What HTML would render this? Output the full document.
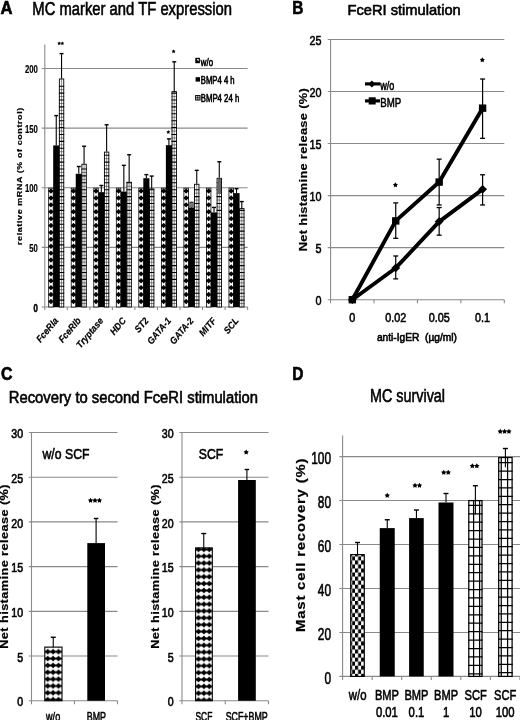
<!DOCTYPE html>
<html><head><meta charset="utf-8"><title>Figure</title>
<style>html,body{margin:0;padding:0;background:#fff;width:520px;height:720px;overflow:hidden}
svg{display:block;font-family:"Liberation Sans",sans-serif;will-change:transform}
text{stroke:#000;stroke-width:0.6px}
text[font-weight=bold]{stroke-width:0.2px}
text.xl{stroke-width:0.2px}
text.pl{stroke-width:0.6px}</style></head>
<body><svg width="520" height="720" viewBox="0 0 520 720" font-family="Liberation Sans, sans-serif"><defs><pattern id="zz1" patternUnits="userSpaceOnUse" width="5.4" height="6.85" x="45.0" y="648.3">
<rect width="5.4" height="6.85" fill="#fff"/>
<path d="M0,3.42 L2.7,0.6 L5.4,3.42 L2.7,6.25Z" fill="#000"/>
<rect x="0" y="2.5" width="5.4" height="1.9" fill="#000"/>
</pattern><pattern id="zz2" patternUnits="userSpaceOnUse" width="5.4" height="6.85" x="195.8" y="648.7">
<rect width="5.4" height="6.85" fill="#fff"/>
<path d="M0,3.42 L2.7,0.6 L5.4,3.42 L2.7,6.25Z" fill="#000"/>
<rect x="0" y="2.5" width="5.4" height="1.9" fill="#000"/>
</pattern><pattern id="gd1" patternUnits="userSpaceOnUse" width="6.0" height="8.45" x="473.0" y="563.8">
<rect width="6.0" height="8.45" fill="#fff"/>
<rect x="0" y="0" width="6.0" height="1.15" fill="#000"/>
<rect x="0" y="0" width="1.15" height="8.45" fill="#000"/>
</pattern><pattern id="gd2" patternUnits="userSpaceOnUse" width="6.35" height="8.4" x="501.0" y="563.0">
<rect width="6.35" height="8.4" fill="#fff"/>
<rect x="0" y="0" width="6.35" height="1.15" fill="#000"/>
<rect x="0" y="0" width="1.15" height="8.4" fill="#000"/>
</pattern><pattern id="chk" patternUnits="userSpaceOnUse" width="6.1" height="8.1" x="348.95" y="600.9">
<rect width="6.1" height="8.1" fill="#fff"/>
<rect x="0" y="0" width="3.05" height="4.05" fill="#000"/>
<rect x="3.05" y="4.05" width="3.05" height="4.05" fill="#000"/>
</pattern></defs>
<text class="pl" x="0.40" y="13.85" font-size="17.5" font-weight="bold" font-style="normal" textLength="12.00" lengthAdjust="spacingAndGlyphs">A</text>
<text x="32.30" y="15.00" font-size="17.5" font-weight="normal" font-style="normal" textLength="199.70" lengthAdjust="spacingAndGlyphs">MC marker and TF expression</text>
<line x1="41.80" y1="247.38" x2="247.60" y2="247.38" stroke="#8a8a8a" stroke-width="1.1"/>
<line x1="41.80" y1="187.75" x2="247.60" y2="187.75" stroke="#8a8a8a" stroke-width="1.1"/>
<line x1="41.80" y1="128.13" x2="247.60" y2="128.13" stroke="#8a8a8a" stroke-width="1.1"/>
<line x1="41.80" y1="68.50" x2="247.60" y2="68.50" stroke="#8a8a8a" stroke-width="1.1"/>
<line x1="44.80" y1="44.50" x2="44.80" y2="307.00" stroke="#8a8a8a" stroke-width="1.1"/>
<line x1="41.80" y1="307.00" x2="247.60" y2="307.00" stroke="#8a8a8a" stroke-width="1.1"/>
<line x1="44.80" y1="307.00" x2="44.80" y2="310.00" stroke="#8a8a8a" stroke-width="1.1"/>
<line x1="67.33" y1="307.00" x2="67.33" y2="310.00" stroke="#8a8a8a" stroke-width="1.1"/>
<line x1="89.87" y1="307.00" x2="89.87" y2="310.00" stroke="#8a8a8a" stroke-width="1.1"/>
<line x1="112.40" y1="307.00" x2="112.40" y2="310.00" stroke="#8a8a8a" stroke-width="1.1"/>
<line x1="134.93" y1="307.00" x2="134.93" y2="310.00" stroke="#8a8a8a" stroke-width="1.1"/>
<line x1="157.47" y1="307.00" x2="157.47" y2="310.00" stroke="#8a8a8a" stroke-width="1.1"/>
<line x1="180.00" y1="307.00" x2="180.00" y2="310.00" stroke="#8a8a8a" stroke-width="1.1"/>
<line x1="202.53" y1="307.00" x2="202.53" y2="310.00" stroke="#8a8a8a" stroke-width="1.1"/>
<line x1="225.07" y1="307.00" x2="225.07" y2="310.00" stroke="#8a8a8a" stroke-width="1.1"/>
<line x1="247.60" y1="307.00" x2="247.60" y2="310.00" stroke="#8a8a8a" stroke-width="1.1"/>
<text class="pl" x="33.52" y="311.50" font-size="11" font-weight="bold" font-style="normal" textLength="4.28" lengthAdjust="spacingAndGlyphs">0</text>
<text x="29.24" y="251.88" font-size="11" font-weight="bold" font-style="normal" textLength="8.56" lengthAdjust="spacingAndGlyphs">50</text>
<text x="24.96" y="192.25" font-size="11" font-weight="bold" font-style="normal" textLength="12.85" lengthAdjust="spacingAndGlyphs">100</text>
<text x="24.96" y="132.63" font-size="11" font-weight="bold" font-style="normal" textLength="12.85" lengthAdjust="spacingAndGlyphs">150</text>
<text x="24.96" y="73.00" font-size="11" font-weight="bold" font-style="normal" textLength="12.85" lengthAdjust="spacingAndGlyphs">200</text>
<text transform="translate(22.40,245.00) rotate(-90) scale(1.2,1)" x="0" y="0" font-size="7.4" font-weight="bold" letter-spacing="0.538">relative mRNA (% of control)</text>
<rect x="48.70" y="188.15" width="4.50" height="118.85" fill="#fff" stroke="#000" stroke-width="0.8"/>
<clipPath id="cA0"><rect x="48.30" y="187.75" width="5.30" height="119.25"/></clipPath>
<path clip-path="url(#cA0)" d="M48.30,191.05 L50.95,188.35 L53.60,191.05 L50.95,193.75Z M48.30,190.15 H53.60 V191.95 H48.30Z M48.30,197.95 L50.95,195.25 L53.60,197.95 L50.95,200.65Z M48.30,197.05 H53.60 V198.85 H48.30Z M48.30,204.85 L50.95,202.15 L53.60,204.85 L50.95,207.55Z M48.30,203.95 H53.60 V205.75 H48.30Z M48.30,211.75 L50.95,209.05 L53.60,211.75 L50.95,214.45Z M48.30,210.85 H53.60 V212.65 H48.30Z M48.30,218.65 L50.95,215.95 L53.60,218.65 L50.95,221.35Z M48.30,217.75 H53.60 V219.55 H48.30Z M48.30,225.55 L50.95,222.85 L53.60,225.55 L50.95,228.25Z M48.30,224.65 H53.60 V226.45 H48.30Z M48.30,232.45 L50.95,229.75 L53.60,232.45 L50.95,235.15Z M48.30,231.55 H53.60 V233.35 H48.30Z M48.30,239.35 L50.95,236.65 L53.60,239.35 L50.95,242.05Z M48.30,238.45 H53.60 V240.25 H48.30Z M48.30,246.25 L50.95,243.55 L53.60,246.25 L50.95,248.95Z M48.30,245.35 H53.60 V247.15 H48.30Z M48.30,253.15 L50.95,250.45 L53.60,253.15 L50.95,255.85Z M48.30,252.25 H53.60 V254.05 H48.30Z M48.30,260.05 L50.95,257.35 L53.60,260.05 L50.95,262.75Z M48.30,259.15 H53.60 V260.95 H48.30Z M48.30,266.95 L50.95,264.25 L53.60,266.95 L50.95,269.65Z M48.30,266.05 H53.60 V267.85 H48.30Z M48.30,273.85 L50.95,271.15 L53.60,273.85 L50.95,276.55Z M48.30,272.95 H53.60 V274.75 H48.30Z M48.30,280.75 L50.95,278.05 L53.60,280.75 L50.95,283.45Z M48.30,279.85 H53.60 V281.65 H48.30Z M48.30,287.65 L50.95,284.95 L53.60,287.65 L50.95,290.35Z M48.30,286.75 H53.60 V288.55 H48.30Z M48.30,294.55 L50.95,291.85 L53.60,294.55 L50.95,297.25Z M48.30,293.65 H53.60 V295.45 H48.30Z M48.30,301.45 L50.95,298.75 L53.60,301.45 L50.95,304.15Z M48.30,300.55 H53.60 V302.35 H48.30Z" fill="#000"/>
<rect x="53.20" y="145.42" width="6.10" height="161.58" fill="#000"/>
<line x1="56.25" y1="115.60" x2="56.25" y2="145.42" stroke="#000" stroke-width="1.1"/>
<line x1="54.25" y1="115.60" x2="58.25" y2="115.60" stroke="#000" stroke-width="1.4"/>
<rect x="59.35" y="78.97" width="4.40" height="228.03" fill="#fff" stroke="#000" stroke-width="0.9"/>
<path d="M58.90,300.10 H64.20 M58.90,293.20 H64.20 M58.90,286.30 H64.20 M58.90,279.40 H64.20 M58.90,272.50 H64.20 M58.90,265.60 H64.20 M58.90,258.70 H64.20 M58.90,251.80 H64.20 M58.90,244.90 H64.20 M58.90,238.00 H64.20 M58.90,231.10 H64.20 M58.90,224.20 H64.20 M58.90,217.30 H64.20 M58.90,210.40 H64.20 M58.90,203.50 H64.20 M58.90,196.60 H64.20 M58.90,189.70 H64.20 M58.90,182.80 H64.20 M58.90,175.90 H64.20 M58.90,169.00 H64.20 M58.90,162.10 H64.20 M58.90,155.20 H64.20 M58.90,148.30 H64.20 M58.90,141.40 H64.20 M58.90,134.50 H64.20 M58.90,127.60 H64.20 M58.90,120.70 H64.20 M58.90,113.80 H64.20 M58.90,106.90 H64.20 M58.90,100.00 H64.20 M58.90,93.10 H64.20 M58.90,86.20 H64.20" stroke="#000" stroke-width="1.1" fill="none"/>
<path d="M58.90,303.55 H64.20 M58.90,296.65 H64.20 M58.90,289.75 H64.20 M58.90,282.85 H64.20 M58.90,275.95 H64.20 M58.90,269.05 H64.20 M58.90,262.15 H64.20 M58.90,255.25 H64.20 M58.90,248.35 H64.20 M58.90,241.45 H64.20 M58.90,234.55 H64.20 M58.90,227.65 H64.20 M58.90,220.75 H64.20 M58.90,213.85 H64.20 M58.90,206.95 H64.20 M58.90,200.05 H64.20 M58.90,193.15 H64.20 M58.90,186.25 H64.20 M58.90,179.35 H64.20 M58.90,172.45 H64.20 M58.90,165.55 H64.20 M58.90,158.65 H64.20 M58.90,151.75 H64.20 M58.90,144.85 H64.20 M58.90,137.95 H64.20 M58.90,131.05 H64.20 M58.90,124.15 H64.20 M58.90,117.25 H64.20 M58.90,110.35 H64.20 M58.90,103.45 H64.20 M58.90,96.55 H64.20 M58.90,89.65 H64.20" stroke="#000" stroke-width="0.45" fill="none"/>
<line x1="61.55" y1="78.52" x2="61.55" y2="307.00" stroke="#000" stroke-width="0.45"/>
<line x1="61.55" y1="53.59" x2="61.55" y2="78.52" stroke="#000" stroke-width="1.1"/>
<line x1="59.55" y1="53.59" x2="63.55" y2="53.59" stroke="#000" stroke-width="1.4"/>
<rect x="71.23" y="188.15" width="4.50" height="118.85" fill="#fff" stroke="#000" stroke-width="0.8"/>
<clipPath id="cA1"><rect x="70.83" y="187.75" width="5.30" height="119.25"/></clipPath>
<path clip-path="url(#cA1)" d="M70.83,191.05 L73.48,188.35 L76.13,191.05 L73.48,193.75Z M70.83,190.15 H76.13 V191.95 H70.83Z M70.83,197.95 L73.48,195.25 L76.13,197.95 L73.48,200.65Z M70.83,197.05 H76.13 V198.85 H70.83Z M70.83,204.85 L73.48,202.15 L76.13,204.85 L73.48,207.55Z M70.83,203.95 H76.13 V205.75 H70.83Z M70.83,211.75 L73.48,209.05 L76.13,211.75 L73.48,214.45Z M70.83,210.85 H76.13 V212.65 H70.83Z M70.83,218.65 L73.48,215.95 L76.13,218.65 L73.48,221.35Z M70.83,217.75 H76.13 V219.55 H70.83Z M70.83,225.55 L73.48,222.85 L76.13,225.55 L73.48,228.25Z M70.83,224.65 H76.13 V226.45 H70.83Z M70.83,232.45 L73.48,229.75 L76.13,232.45 L73.48,235.15Z M70.83,231.55 H76.13 V233.35 H70.83Z M70.83,239.35 L73.48,236.65 L76.13,239.35 L73.48,242.05Z M70.83,238.45 H76.13 V240.25 H70.83Z M70.83,246.25 L73.48,243.55 L76.13,246.25 L73.48,248.95Z M70.83,245.35 H76.13 V247.15 H70.83Z M70.83,253.15 L73.48,250.45 L76.13,253.15 L73.48,255.85Z M70.83,252.25 H76.13 V254.05 H70.83Z M70.83,260.05 L73.48,257.35 L76.13,260.05 L73.48,262.75Z M70.83,259.15 H76.13 V260.95 H70.83Z M70.83,266.95 L73.48,264.25 L76.13,266.95 L73.48,269.65Z M70.83,266.05 H76.13 V267.85 H70.83Z M70.83,273.85 L73.48,271.15 L76.13,273.85 L73.48,276.55Z M70.83,272.95 H76.13 V274.75 H70.83Z M70.83,280.75 L73.48,278.05 L76.13,280.75 L73.48,283.45Z M70.83,279.85 H76.13 V281.65 H70.83Z M70.83,287.65 L73.48,284.95 L76.13,287.65 L73.48,290.35Z M70.83,286.75 H76.13 V288.55 H70.83Z M70.83,294.55 L73.48,291.85 L76.13,294.55 L73.48,297.25Z M70.83,293.65 H76.13 V295.45 H70.83Z M70.83,301.45 L73.48,298.75 L76.13,301.45 L73.48,304.15Z M70.83,300.55 H76.13 V302.35 H70.83Z" fill="#000"/>
<rect x="75.73" y="173.80" width="6.10" height="133.20" fill="#000"/>
<line x1="78.78" y1="166.52" x2="78.78" y2="173.80" stroke="#000" stroke-width="1.1"/>
<line x1="76.78" y1="166.52" x2="80.78" y2="166.52" stroke="#000" stroke-width="1.4"/>
<rect x="81.88" y="164.23" width="4.40" height="142.77" fill="#fff" stroke="#000" stroke-width="0.9"/>
<path d="M81.43,300.10 H86.73 M81.43,293.20 H86.73 M81.43,286.30 H86.73 M81.43,279.40 H86.73 M81.43,272.50 H86.73 M81.43,265.60 H86.73 M81.43,258.70 H86.73 M81.43,251.80 H86.73 M81.43,244.90 H86.73 M81.43,238.00 H86.73 M81.43,231.10 H86.73 M81.43,224.20 H86.73 M81.43,217.30 H86.73 M81.43,210.40 H86.73 M81.43,203.50 H86.73 M81.43,196.60 H86.73 M81.43,189.70 H86.73 M81.43,182.80 H86.73 M81.43,175.90 H86.73 M81.43,169.00 H86.73" stroke="#000" stroke-width="1.1" fill="none"/>
<path d="M81.43,303.55 H86.73 M81.43,296.65 H86.73 M81.43,289.75 H86.73 M81.43,282.85 H86.73 M81.43,275.95 H86.73 M81.43,269.05 H86.73 M81.43,262.15 H86.73 M81.43,255.25 H86.73 M81.43,248.35 H86.73 M81.43,241.45 H86.73 M81.43,234.55 H86.73 M81.43,227.65 H86.73 M81.43,220.75 H86.73 M81.43,213.85 H86.73 M81.43,206.95 H86.73 M81.43,200.05 H86.73 M81.43,193.15 H86.73 M81.43,186.25 H86.73 M81.43,179.35 H86.73 M81.43,172.45 H86.73" stroke="#000" stroke-width="0.45" fill="none"/>
<line x1="84.08" y1="163.78" x2="84.08" y2="307.00" stroke="#000" stroke-width="0.45"/>
<line x1="84.08" y1="146.25" x2="84.08" y2="163.78" stroke="#000" stroke-width="1.1"/>
<line x1="82.08" y1="146.25" x2="86.08" y2="146.25" stroke="#000" stroke-width="1.4"/>
<rect x="93.77" y="188.15" width="4.50" height="118.85" fill="#fff" stroke="#000" stroke-width="0.8"/>
<clipPath id="cA2"><rect x="93.37" y="187.75" width="5.30" height="119.25"/></clipPath>
<path clip-path="url(#cA2)" d="M93.37,191.05 L96.02,188.35 L98.67,191.05 L96.02,193.75Z M93.37,190.15 H98.67 V191.95 H93.37Z M93.37,197.95 L96.02,195.25 L98.67,197.95 L96.02,200.65Z M93.37,197.05 H98.67 V198.85 H93.37Z M93.37,204.85 L96.02,202.15 L98.67,204.85 L96.02,207.55Z M93.37,203.95 H98.67 V205.75 H93.37Z M93.37,211.75 L96.02,209.05 L98.67,211.75 L96.02,214.45Z M93.37,210.85 H98.67 V212.65 H93.37Z M93.37,218.65 L96.02,215.95 L98.67,218.65 L96.02,221.35Z M93.37,217.75 H98.67 V219.55 H93.37Z M93.37,225.55 L96.02,222.85 L98.67,225.55 L96.02,228.25Z M93.37,224.65 H98.67 V226.45 H93.37Z M93.37,232.45 L96.02,229.75 L98.67,232.45 L96.02,235.15Z M93.37,231.55 H98.67 V233.35 H93.37Z M93.37,239.35 L96.02,236.65 L98.67,239.35 L96.02,242.05Z M93.37,238.45 H98.67 V240.25 H93.37Z M93.37,246.25 L96.02,243.55 L98.67,246.25 L96.02,248.95Z M93.37,245.35 H98.67 V247.15 H93.37Z M93.37,253.15 L96.02,250.45 L98.67,253.15 L96.02,255.85Z M93.37,252.25 H98.67 V254.05 H93.37Z M93.37,260.05 L96.02,257.35 L98.67,260.05 L96.02,262.75Z M93.37,259.15 H98.67 V260.95 H93.37Z M93.37,266.95 L96.02,264.25 L98.67,266.95 L96.02,269.65Z M93.37,266.05 H98.67 V267.85 H93.37Z M93.37,273.85 L96.02,271.15 L98.67,273.85 L96.02,276.55Z M93.37,272.95 H98.67 V274.75 H93.37Z M93.37,280.75 L96.02,278.05 L98.67,280.75 L96.02,283.45Z M93.37,279.85 H98.67 V281.65 H93.37Z M93.37,287.65 L96.02,284.95 L98.67,287.65 L96.02,290.35Z M93.37,286.75 H98.67 V288.55 H93.37Z M93.37,294.55 L96.02,291.85 L98.67,294.55 L96.02,297.25Z M93.37,293.65 H98.67 V295.45 H93.37Z M93.37,301.45 L96.02,298.75 L98.67,301.45 L96.02,304.15Z M93.37,300.55 H98.67 V302.35 H93.37Z" fill="#000"/>
<rect x="98.27" y="192.16" width="6.10" height="114.84" fill="#000"/>
<line x1="101.32" y1="185.48" x2="101.32" y2="192.16" stroke="#000" stroke-width="1.1"/>
<line x1="99.32" y1="185.48" x2="103.32" y2="185.48" stroke="#000" stroke-width="1.4"/>
<rect x="104.42" y="152.07" width="4.40" height="154.93" fill="#fff" stroke="#000" stroke-width="0.9"/>
<path d="M103.97,300.10 H109.27 M103.97,293.20 H109.27 M103.97,286.30 H109.27 M103.97,279.40 H109.27 M103.97,272.50 H109.27 M103.97,265.60 H109.27 M103.97,258.70 H109.27 M103.97,251.80 H109.27 M103.97,244.90 H109.27 M103.97,238.00 H109.27 M103.97,231.10 H109.27 M103.97,224.20 H109.27 M103.97,217.30 H109.27 M103.97,210.40 H109.27 M103.97,203.50 H109.27 M103.97,196.60 H109.27 M103.97,189.70 H109.27 M103.97,182.80 H109.27 M103.97,175.90 H109.27 M103.97,169.00 H109.27 M103.97,162.10 H109.27 M103.97,155.20 H109.27" stroke="#000" stroke-width="1.1" fill="none"/>
<path d="M103.97,303.55 H109.27 M103.97,296.65 H109.27 M103.97,289.75 H109.27 M103.97,282.85 H109.27 M103.97,275.95 H109.27 M103.97,269.05 H109.27 M103.97,262.15 H109.27 M103.97,255.25 H109.27 M103.97,248.35 H109.27 M103.97,241.45 H109.27 M103.97,234.55 H109.27 M103.97,227.65 H109.27 M103.97,220.75 H109.27 M103.97,213.85 H109.27 M103.97,206.95 H109.27 M103.97,200.05 H109.27 M103.97,193.15 H109.27 M103.97,186.25 H109.27 M103.97,179.35 H109.27 M103.97,172.45 H109.27 M103.97,165.55 H109.27 M103.97,158.65 H109.27" stroke="#000" stroke-width="0.45" fill="none"/>
<line x1="106.62" y1="151.62" x2="106.62" y2="307.00" stroke="#000" stroke-width="0.45"/>
<line x1="106.62" y1="124.79" x2="106.62" y2="151.62" stroke="#000" stroke-width="1.1"/>
<line x1="104.62" y1="124.79" x2="108.62" y2="124.79" stroke="#000" stroke-width="1.4"/>
<rect x="116.30" y="188.15" width="4.50" height="118.85" fill="#fff" stroke="#000" stroke-width="0.8"/>
<clipPath id="cA3"><rect x="115.90" y="187.75" width="5.30" height="119.25"/></clipPath>
<path clip-path="url(#cA3)" d="M115.90,191.05 L118.55,188.35 L121.20,191.05 L118.55,193.75Z M115.90,190.15 H121.20 V191.95 H115.90Z M115.90,197.95 L118.55,195.25 L121.20,197.95 L118.55,200.65Z M115.90,197.05 H121.20 V198.85 H115.90Z M115.90,204.85 L118.55,202.15 L121.20,204.85 L118.55,207.55Z M115.90,203.95 H121.20 V205.75 H115.90Z M115.90,211.75 L118.55,209.05 L121.20,211.75 L118.55,214.45Z M115.90,210.85 H121.20 V212.65 H115.90Z M115.90,218.65 L118.55,215.95 L121.20,218.65 L118.55,221.35Z M115.90,217.75 H121.20 V219.55 H115.90Z M115.90,225.55 L118.55,222.85 L121.20,225.55 L118.55,228.25Z M115.90,224.65 H121.20 V226.45 H115.90Z M115.90,232.45 L118.55,229.75 L121.20,232.45 L118.55,235.15Z M115.90,231.55 H121.20 V233.35 H115.90Z M115.90,239.35 L118.55,236.65 L121.20,239.35 L118.55,242.05Z M115.90,238.45 H121.20 V240.25 H115.90Z M115.90,246.25 L118.55,243.55 L121.20,246.25 L118.55,248.95Z M115.90,245.35 H121.20 V247.15 H115.90Z M115.90,253.15 L118.55,250.45 L121.20,253.15 L118.55,255.85Z M115.90,252.25 H121.20 V254.05 H115.90Z M115.90,260.05 L118.55,257.35 L121.20,260.05 L118.55,262.75Z M115.90,259.15 H121.20 V260.95 H115.90Z M115.90,266.95 L118.55,264.25 L121.20,266.95 L118.55,269.65Z M115.90,266.05 H121.20 V267.85 H115.90Z M115.90,273.85 L118.55,271.15 L121.20,273.85 L118.55,276.55Z M115.90,272.95 H121.20 V274.75 H115.90Z M115.90,280.75 L118.55,278.05 L121.20,280.75 L118.55,283.45Z M115.90,279.85 H121.20 V281.65 H115.90Z M115.90,287.65 L118.55,284.95 L121.20,287.65 L118.55,290.35Z M115.90,286.75 H121.20 V288.55 H115.90Z M115.90,294.55 L118.55,291.85 L121.20,294.55 L118.55,297.25Z M115.90,293.65 H121.20 V295.45 H115.90Z M115.90,301.45 L118.55,298.75 L121.20,301.45 L118.55,304.15Z M115.90,300.55 H121.20 V302.35 H115.90Z" fill="#000"/>
<rect x="120.80" y="191.57" width="6.10" height="115.43" fill="#000"/>
<line x1="123.85" y1="165.33" x2="123.85" y2="191.57" stroke="#000" stroke-width="1.1"/>
<line x1="121.85" y1="165.33" x2="125.85" y2="165.33" stroke="#000" stroke-width="1.4"/>
<rect x="126.95" y="182.24" width="4.40" height="124.76" fill="#fff" stroke="#000" stroke-width="0.9"/>
<path d="M126.50,300.10 H131.80 M126.50,293.20 H131.80 M126.50,286.30 H131.80 M126.50,279.40 H131.80 M126.50,272.50 H131.80 M126.50,265.60 H131.80 M126.50,258.70 H131.80 M126.50,251.80 H131.80 M126.50,244.90 H131.80 M126.50,238.00 H131.80 M126.50,231.10 H131.80 M126.50,224.20 H131.80 M126.50,217.30 H131.80 M126.50,210.40 H131.80 M126.50,203.50 H131.80 M126.50,196.60 H131.80 M126.50,189.70 H131.80 M126.50,182.80 H131.80" stroke="#000" stroke-width="1.1" fill="none"/>
<path d="M126.50,303.55 H131.80 M126.50,296.65 H131.80 M126.50,289.75 H131.80 M126.50,282.85 H131.80 M126.50,275.95 H131.80 M126.50,269.05 H131.80 M126.50,262.15 H131.80 M126.50,255.25 H131.80 M126.50,248.35 H131.80 M126.50,241.45 H131.80 M126.50,234.55 H131.80 M126.50,227.65 H131.80 M126.50,220.75 H131.80 M126.50,213.85 H131.80 M126.50,206.95 H131.80 M126.50,200.05 H131.80 M126.50,193.15 H131.80 M126.50,186.25 H131.80" stroke="#000" stroke-width="0.45" fill="none"/>
<line x1="129.15" y1="181.79" x2="129.15" y2="307.00" stroke="#000" stroke-width="0.45"/>
<line x1="129.15" y1="154.72" x2="129.15" y2="181.79" stroke="#000" stroke-width="1.1"/>
<line x1="127.15" y1="154.72" x2="131.15" y2="154.72" stroke="#000" stroke-width="1.4"/>
<rect x="138.83" y="188.15" width="4.50" height="118.85" fill="#fff" stroke="#000" stroke-width="0.8"/>
<clipPath id="cA4"><rect x="138.43" y="187.75" width="5.30" height="119.25"/></clipPath>
<path clip-path="url(#cA4)" d="M138.43,191.05 L141.08,188.35 L143.73,191.05 L141.08,193.75Z M138.43,190.15 H143.73 V191.95 H138.43Z M138.43,197.95 L141.08,195.25 L143.73,197.95 L141.08,200.65Z M138.43,197.05 H143.73 V198.85 H138.43Z M138.43,204.85 L141.08,202.15 L143.73,204.85 L141.08,207.55Z M138.43,203.95 H143.73 V205.75 H138.43Z M138.43,211.75 L141.08,209.05 L143.73,211.75 L141.08,214.45Z M138.43,210.85 H143.73 V212.65 H138.43Z M138.43,218.65 L141.08,215.95 L143.73,218.65 L141.08,221.35Z M138.43,217.75 H143.73 V219.55 H138.43Z M138.43,225.55 L141.08,222.85 L143.73,225.55 L141.08,228.25Z M138.43,224.65 H143.73 V226.45 H138.43Z M138.43,232.45 L141.08,229.75 L143.73,232.45 L141.08,235.15Z M138.43,231.55 H143.73 V233.35 H138.43Z M138.43,239.35 L141.08,236.65 L143.73,239.35 L141.08,242.05Z M138.43,238.45 H143.73 V240.25 H138.43Z M138.43,246.25 L141.08,243.55 L143.73,246.25 L141.08,248.95Z M138.43,245.35 H143.73 V247.15 H138.43Z M138.43,253.15 L141.08,250.45 L143.73,253.15 L141.08,255.85Z M138.43,252.25 H143.73 V254.05 H138.43Z M138.43,260.05 L141.08,257.35 L143.73,260.05 L141.08,262.75Z M138.43,259.15 H143.73 V260.95 H138.43Z M138.43,266.95 L141.08,264.25 L143.73,266.95 L141.08,269.65Z M138.43,266.05 H143.73 V267.85 H138.43Z M138.43,273.85 L141.08,271.15 L143.73,273.85 L141.08,276.55Z M138.43,272.95 H143.73 V274.75 H138.43Z M138.43,280.75 L141.08,278.05 L143.73,280.75 L141.08,283.45Z M138.43,279.85 H143.73 V281.65 H138.43Z M138.43,287.65 L141.08,284.95 L143.73,287.65 L141.08,290.35Z M138.43,286.75 H143.73 V288.55 H138.43Z M138.43,294.55 L141.08,291.85 L143.73,294.55 L141.08,297.25Z M138.43,293.65 H143.73 V295.45 H138.43Z M138.43,301.45 L141.08,298.75 L143.73,301.45 L141.08,304.15Z M138.43,300.55 H143.73 V302.35 H138.43Z" fill="#000"/>
<rect x="143.33" y="178.21" width="6.10" height="128.79" fill="#000"/>
<line x1="146.38" y1="174.63" x2="146.38" y2="178.21" stroke="#000" stroke-width="1.1"/>
<line x1="144.38" y1="174.63" x2="148.38" y2="174.63" stroke="#000" stroke-width="1.4"/>
<rect x="149.48" y="188.92" width="4.40" height="118.08" fill="#fff" stroke="#000" stroke-width="0.9"/>
<path d="M149.03,300.10 H154.33 M149.03,293.20 H154.33 M149.03,286.30 H154.33 M149.03,279.40 H154.33 M149.03,272.50 H154.33 M149.03,265.60 H154.33 M149.03,258.70 H154.33 M149.03,251.80 H154.33 M149.03,244.90 H154.33 M149.03,238.00 H154.33 M149.03,231.10 H154.33 M149.03,224.20 H154.33 M149.03,217.30 H154.33 M149.03,210.40 H154.33 M149.03,203.50 H154.33 M149.03,196.60 H154.33 M149.03,189.70 H154.33" stroke="#000" stroke-width="1.1" fill="none"/>
<path d="M149.03,303.55 H154.33 M149.03,296.65 H154.33 M149.03,289.75 H154.33 M149.03,282.85 H154.33 M149.03,275.95 H154.33 M149.03,269.05 H154.33 M149.03,262.15 H154.33 M149.03,255.25 H154.33 M149.03,248.35 H154.33 M149.03,241.45 H154.33 M149.03,234.55 H154.33 M149.03,227.65 H154.33 M149.03,220.75 H154.33 M149.03,213.85 H154.33 M149.03,206.95 H154.33 M149.03,200.05 H154.33 M149.03,193.15 H154.33" stroke="#000" stroke-width="0.45" fill="none"/>
<line x1="151.68" y1="188.47" x2="151.68" y2="307.00" stroke="#000" stroke-width="0.45"/>
<line x1="151.68" y1="176.06" x2="151.68" y2="188.47" stroke="#000" stroke-width="1.1"/>
<line x1="149.68" y1="176.06" x2="153.68" y2="176.06" stroke="#000" stroke-width="1.4"/>
<rect x="161.37" y="188.15" width="4.50" height="118.85" fill="#fff" stroke="#000" stroke-width="0.8"/>
<clipPath id="cA5"><rect x="160.97" y="187.75" width="5.30" height="119.25"/></clipPath>
<path clip-path="url(#cA5)" d="M160.97,191.05 L163.62,188.35 L166.27,191.05 L163.62,193.75Z M160.97,190.15 H166.27 V191.95 H160.97Z M160.97,197.95 L163.62,195.25 L166.27,197.95 L163.62,200.65Z M160.97,197.05 H166.27 V198.85 H160.97Z M160.97,204.85 L163.62,202.15 L166.27,204.85 L163.62,207.55Z M160.97,203.95 H166.27 V205.75 H160.97Z M160.97,211.75 L163.62,209.05 L166.27,211.75 L163.62,214.45Z M160.97,210.85 H166.27 V212.65 H160.97Z M160.97,218.65 L163.62,215.95 L166.27,218.65 L163.62,221.35Z M160.97,217.75 H166.27 V219.55 H160.97Z M160.97,225.55 L163.62,222.85 L166.27,225.55 L163.62,228.25Z M160.97,224.65 H166.27 V226.45 H160.97Z M160.97,232.45 L163.62,229.75 L166.27,232.45 L163.62,235.15Z M160.97,231.55 H166.27 V233.35 H160.97Z M160.97,239.35 L163.62,236.65 L166.27,239.35 L163.62,242.05Z M160.97,238.45 H166.27 V240.25 H160.97Z M160.97,246.25 L163.62,243.55 L166.27,246.25 L163.62,248.95Z M160.97,245.35 H166.27 V247.15 H160.97Z M160.97,253.15 L163.62,250.45 L166.27,253.15 L163.62,255.85Z M160.97,252.25 H166.27 V254.05 H160.97Z M160.97,260.05 L163.62,257.35 L166.27,260.05 L163.62,262.75Z M160.97,259.15 H166.27 V260.95 H160.97Z M160.97,266.95 L163.62,264.25 L166.27,266.95 L163.62,269.65Z M160.97,266.05 H166.27 V267.85 H160.97Z M160.97,273.85 L163.62,271.15 L166.27,273.85 L163.62,276.55Z M160.97,272.95 H166.27 V274.75 H160.97Z M160.97,280.75 L163.62,278.05 L166.27,280.75 L163.62,283.45Z M160.97,279.85 H166.27 V281.65 H160.97Z M160.97,287.65 L163.62,284.95 L166.27,287.65 L163.62,290.35Z M160.97,286.75 H166.27 V288.55 H160.97Z M160.97,294.55 L163.62,291.85 L166.27,294.55 L163.62,297.25Z M160.97,293.65 H166.27 V295.45 H160.97Z M160.97,301.45 L163.62,298.75 L166.27,301.45 L163.62,304.15Z M160.97,300.55 H166.27 V302.35 H160.97Z" fill="#000"/>
<rect x="165.87" y="145.18" width="6.10" height="161.82" fill="#000"/>
<line x1="168.92" y1="138.86" x2="168.92" y2="145.18" stroke="#000" stroke-width="1.1"/>
<line x1="166.92" y1="138.86" x2="170.92" y2="138.86" stroke="#000" stroke-width="1.4"/>
<rect x="172.02" y="91.61" width="4.40" height="215.39" fill="#fff" stroke="#000" stroke-width="0.9"/>
<path d="M171.57,300.10 H176.87 M171.57,293.20 H176.87 M171.57,286.30 H176.87 M171.57,279.40 H176.87 M171.57,272.50 H176.87 M171.57,265.60 H176.87 M171.57,258.70 H176.87 M171.57,251.80 H176.87 M171.57,244.90 H176.87 M171.57,238.00 H176.87 M171.57,231.10 H176.87 M171.57,224.20 H176.87 M171.57,217.30 H176.87 M171.57,210.40 H176.87 M171.57,203.50 H176.87 M171.57,196.60 H176.87 M171.57,189.70 H176.87 M171.57,182.80 H176.87 M171.57,175.90 H176.87 M171.57,169.00 H176.87 M171.57,162.10 H176.87 M171.57,155.20 H176.87 M171.57,148.30 H176.87 M171.57,141.40 H176.87 M171.57,134.50 H176.87 M171.57,127.60 H176.87 M171.57,120.70 H176.87 M171.57,113.80 H176.87 M171.57,106.90 H176.87 M171.57,100.00 H176.87 M171.57,93.10 H176.87" stroke="#000" stroke-width="1.1" fill="none"/>
<path d="M171.57,303.55 H176.87 M171.57,296.65 H176.87 M171.57,289.75 H176.87 M171.57,282.85 H176.87 M171.57,275.95 H176.87 M171.57,269.05 H176.87 M171.57,262.15 H176.87 M171.57,255.25 H176.87 M171.57,248.35 H176.87 M171.57,241.45 H176.87 M171.57,234.55 H176.87 M171.57,227.65 H176.87 M171.57,220.75 H176.87 M171.57,213.85 H176.87 M171.57,206.95 H176.87 M171.57,200.05 H176.87 M171.57,193.15 H176.87 M171.57,186.25 H176.87 M171.57,179.35 H176.87 M171.57,172.45 H176.87 M171.57,165.55 H176.87 M171.57,158.65 H176.87 M171.57,151.75 H176.87 M171.57,144.85 H176.87 M171.57,137.95 H176.87 M171.57,131.05 H176.87 M171.57,124.15 H176.87 M171.57,117.25 H176.87 M171.57,110.35 H176.87 M171.57,103.45 H176.87 M171.57,96.55 H176.87" stroke="#000" stroke-width="0.45" fill="none"/>
<line x1="174.22" y1="91.16" x2="174.22" y2="307.00" stroke="#000" stroke-width="0.45"/>
<line x1="174.22" y1="61.82" x2="174.22" y2="91.16" stroke="#000" stroke-width="1.1"/>
<line x1="172.22" y1="61.82" x2="176.22" y2="61.82" stroke="#000" stroke-width="1.4"/>
<rect x="183.90" y="188.15" width="4.50" height="118.85" fill="#fff" stroke="#000" stroke-width="0.8"/>
<clipPath id="cA6"><rect x="183.50" y="187.75" width="5.30" height="119.25"/></clipPath>
<path clip-path="url(#cA6)" d="M183.50,191.05 L186.15,188.35 L188.80,191.05 L186.15,193.75Z M183.50,190.15 H188.80 V191.95 H183.50Z M183.50,197.95 L186.15,195.25 L188.80,197.95 L186.15,200.65Z M183.50,197.05 H188.80 V198.85 H183.50Z M183.50,204.85 L186.15,202.15 L188.80,204.85 L186.15,207.55Z M183.50,203.95 H188.80 V205.75 H183.50Z M183.50,211.75 L186.15,209.05 L188.80,211.75 L186.15,214.45Z M183.50,210.85 H188.80 V212.65 H183.50Z M183.50,218.65 L186.15,215.95 L188.80,218.65 L186.15,221.35Z M183.50,217.75 H188.80 V219.55 H183.50Z M183.50,225.55 L186.15,222.85 L188.80,225.55 L186.15,228.25Z M183.50,224.65 H188.80 V226.45 H183.50Z M183.50,232.45 L186.15,229.75 L188.80,232.45 L186.15,235.15Z M183.50,231.55 H188.80 V233.35 H183.50Z M183.50,239.35 L186.15,236.65 L188.80,239.35 L186.15,242.05Z M183.50,238.45 H188.80 V240.25 H183.50Z M183.50,246.25 L186.15,243.55 L188.80,246.25 L186.15,248.95Z M183.50,245.35 H188.80 V247.15 H183.50Z M183.50,253.15 L186.15,250.45 L188.80,253.15 L186.15,255.85Z M183.50,252.25 H188.80 V254.05 H183.50Z M183.50,260.05 L186.15,257.35 L188.80,260.05 L186.15,262.75Z M183.50,259.15 H188.80 V260.95 H183.50Z M183.50,266.95 L186.15,264.25 L188.80,266.95 L186.15,269.65Z M183.50,266.05 H188.80 V267.85 H183.50Z M183.50,273.85 L186.15,271.15 L188.80,273.85 L186.15,276.55Z M183.50,272.95 H188.80 V274.75 H183.50Z M183.50,280.75 L186.15,278.05 L188.80,280.75 L186.15,283.45Z M183.50,279.85 H188.80 V281.65 H183.50Z M183.50,287.65 L186.15,284.95 L188.80,287.65 L186.15,290.35Z M183.50,286.75 H188.80 V288.55 H183.50Z M183.50,294.55 L186.15,291.85 L188.80,294.55 L186.15,297.25Z M183.50,293.65 H188.80 V295.45 H183.50Z M183.50,301.45 L186.15,298.75 L188.80,301.45 L186.15,304.15Z M183.50,300.55 H188.80 V302.35 H183.50Z" fill="#000"/>
<rect x="188.40" y="207.43" width="6.10" height="99.57" fill="#000"/>
<line x1="191.45" y1="202.42" x2="191.45" y2="207.43" stroke="#000" stroke-width="1.1"/>
<line x1="189.45" y1="202.42" x2="193.45" y2="202.42" stroke="#000" stroke-width="1.4"/>
<rect x="194.55" y="184.26" width="4.40" height="122.74" fill="#fff" stroke="#000" stroke-width="0.9"/>
<path d="M194.10,300.10 H199.40 M194.10,293.20 H199.40 M194.10,286.30 H199.40 M194.10,279.40 H199.40 M194.10,272.50 H199.40 M194.10,265.60 H199.40 M194.10,258.70 H199.40 M194.10,251.80 H199.40 M194.10,244.90 H199.40 M194.10,238.00 H199.40 M194.10,231.10 H199.40 M194.10,224.20 H199.40 M194.10,217.30 H199.40 M194.10,210.40 H199.40 M194.10,203.50 H199.40 M194.10,196.60 H199.40 M194.10,189.70 H199.40" stroke="#000" stroke-width="1.1" fill="none"/>
<path d="M194.10,303.55 H199.40 M194.10,296.65 H199.40 M194.10,289.75 H199.40 M194.10,282.85 H199.40 M194.10,275.95 H199.40 M194.10,269.05 H199.40 M194.10,262.15 H199.40 M194.10,255.25 H199.40 M194.10,248.35 H199.40 M194.10,241.45 H199.40 M194.10,234.55 H199.40 M194.10,227.65 H199.40 M194.10,220.75 H199.40 M194.10,213.85 H199.40 M194.10,206.95 H199.40 M194.10,200.05 H199.40 M194.10,193.15 H199.40" stroke="#000" stroke-width="0.45" fill="none"/>
<line x1="196.75" y1="183.81" x2="196.75" y2="307.00" stroke="#000" stroke-width="0.45"/>
<rect x="188.80" y="202.50" width="5.30" height="4.50" fill="#777"/>
<line x1="196.75" y1="170.34" x2="196.75" y2="183.81" stroke="#000" stroke-width="1.1"/>
<line x1="194.75" y1="170.34" x2="198.75" y2="170.34" stroke="#000" stroke-width="1.4"/>
<rect x="206.43" y="188.15" width="4.50" height="118.85" fill="#fff" stroke="#000" stroke-width="0.8"/>
<clipPath id="cA7"><rect x="206.03" y="187.75" width="5.30" height="119.25"/></clipPath>
<path clip-path="url(#cA7)" d="M206.03,191.05 L208.68,188.35 L211.33,191.05 L208.68,193.75Z M206.03,190.15 H211.33 V191.95 H206.03Z M206.03,197.95 L208.68,195.25 L211.33,197.95 L208.68,200.65Z M206.03,197.05 H211.33 V198.85 H206.03Z M206.03,204.85 L208.68,202.15 L211.33,204.85 L208.68,207.55Z M206.03,203.95 H211.33 V205.75 H206.03Z M206.03,211.75 L208.68,209.05 L211.33,211.75 L208.68,214.45Z M206.03,210.85 H211.33 V212.65 H206.03Z M206.03,218.65 L208.68,215.95 L211.33,218.65 L208.68,221.35Z M206.03,217.75 H211.33 V219.55 H206.03Z M206.03,225.55 L208.68,222.85 L211.33,225.55 L208.68,228.25Z M206.03,224.65 H211.33 V226.45 H206.03Z M206.03,232.45 L208.68,229.75 L211.33,232.45 L208.68,235.15Z M206.03,231.55 H211.33 V233.35 H206.03Z M206.03,239.35 L208.68,236.65 L211.33,239.35 L208.68,242.05Z M206.03,238.45 H211.33 V240.25 H206.03Z M206.03,246.25 L208.68,243.55 L211.33,246.25 L208.68,248.95Z M206.03,245.35 H211.33 V247.15 H206.03Z M206.03,253.15 L208.68,250.45 L211.33,253.15 L208.68,255.85Z M206.03,252.25 H211.33 V254.05 H206.03Z M206.03,260.05 L208.68,257.35 L211.33,260.05 L208.68,262.75Z M206.03,259.15 H211.33 V260.95 H206.03Z M206.03,266.95 L208.68,264.25 L211.33,266.95 L208.68,269.65Z M206.03,266.05 H211.33 V267.85 H206.03Z M206.03,273.85 L208.68,271.15 L211.33,273.85 L208.68,276.55Z M206.03,272.95 H211.33 V274.75 H206.03Z M206.03,280.75 L208.68,278.05 L211.33,280.75 L208.68,283.45Z M206.03,279.85 H211.33 V281.65 H206.03Z M206.03,287.65 L208.68,284.95 L211.33,287.65 L208.68,290.35Z M206.03,286.75 H211.33 V288.55 H206.03Z M206.03,294.55 L208.68,291.85 L211.33,294.55 L208.68,297.25Z M206.03,293.65 H211.33 V295.45 H206.03Z M206.03,301.45 L208.68,298.75 L211.33,301.45 L208.68,304.15Z M206.03,300.55 H211.33 V302.35 H206.03Z" fill="#000"/>
<rect x="210.93" y="212.43" width="6.10" height="94.57" fill="#000"/>
<line x1="213.98" y1="207.43" x2="213.98" y2="212.43" stroke="#000" stroke-width="1.1"/>
<line x1="211.98" y1="207.43" x2="215.98" y2="207.43" stroke="#000" stroke-width="1.4"/>
<rect x="217.08" y="178.30" width="4.40" height="128.70" fill="#fff" stroke="#000" stroke-width="0.9"/>
<path d="M216.63,300.10 H221.93 M216.63,293.20 H221.93 M216.63,286.30 H221.93 M216.63,279.40 H221.93 M216.63,272.50 H221.93 M216.63,265.60 H221.93 M216.63,258.70 H221.93 M216.63,251.80 H221.93 M216.63,244.90 H221.93 M216.63,238.00 H221.93 M216.63,231.10 H221.93 M216.63,224.20 H221.93 M216.63,217.30 H221.93 M216.63,210.40 H221.93 M216.63,203.50 H221.93 M216.63,196.60 H221.93 M216.63,189.70 H221.93 M216.63,182.80 H221.93" stroke="#000" stroke-width="1.1" fill="none"/>
<path d="M216.63,303.55 H221.93 M216.63,296.65 H221.93 M216.63,289.75 H221.93 M216.63,282.85 H221.93 M216.63,275.95 H221.93 M216.63,269.05 H221.93 M216.63,262.15 H221.93 M216.63,255.25 H221.93 M216.63,248.35 H221.93 M216.63,241.45 H221.93 M216.63,234.55 H221.93 M216.63,227.65 H221.93 M216.63,220.75 H221.93 M216.63,213.85 H221.93 M216.63,206.95 H221.93 M216.63,200.05 H221.93 M216.63,193.15 H221.93 M216.63,186.25 H221.93" stroke="#000" stroke-width="0.45" fill="none"/>
<line x1="219.28" y1="177.85" x2="219.28" y2="307.00" stroke="#000" stroke-width="0.45"/>
<rect x="217.53" y="178.75" width="3.50" height="15.15" fill="#666"/>
<line x1="219.28" y1="161.75" x2="219.28" y2="177.85" stroke="#000" stroke-width="1.1"/>
<line x1="217.28" y1="161.75" x2="221.28" y2="161.75" stroke="#000" stroke-width="1.4"/>
<rect x="228.97" y="188.15" width="4.50" height="118.85" fill="#fff" stroke="#000" stroke-width="0.8"/>
<clipPath id="cA8"><rect x="228.57" y="187.75" width="5.30" height="119.25"/></clipPath>
<path clip-path="url(#cA8)" d="M228.57,191.05 L231.22,188.35 L233.87,191.05 L231.22,193.75Z M228.57,190.15 H233.87 V191.95 H228.57Z M228.57,197.95 L231.22,195.25 L233.87,197.95 L231.22,200.65Z M228.57,197.05 H233.87 V198.85 H228.57Z M228.57,204.85 L231.22,202.15 L233.87,204.85 L231.22,207.55Z M228.57,203.95 H233.87 V205.75 H228.57Z M228.57,211.75 L231.22,209.05 L233.87,211.75 L231.22,214.45Z M228.57,210.85 H233.87 V212.65 H228.57Z M228.57,218.65 L231.22,215.95 L233.87,218.65 L231.22,221.35Z M228.57,217.75 H233.87 V219.55 H228.57Z M228.57,225.55 L231.22,222.85 L233.87,225.55 L231.22,228.25Z M228.57,224.65 H233.87 V226.45 H228.57Z M228.57,232.45 L231.22,229.75 L233.87,232.45 L231.22,235.15Z M228.57,231.55 H233.87 V233.35 H228.57Z M228.57,239.35 L231.22,236.65 L233.87,239.35 L231.22,242.05Z M228.57,238.45 H233.87 V240.25 H228.57Z M228.57,246.25 L231.22,243.55 L233.87,246.25 L231.22,248.95Z M228.57,245.35 H233.87 V247.15 H228.57Z M228.57,253.15 L231.22,250.45 L233.87,253.15 L231.22,255.85Z M228.57,252.25 H233.87 V254.05 H228.57Z M228.57,260.05 L231.22,257.35 L233.87,260.05 L231.22,262.75Z M228.57,259.15 H233.87 V260.95 H228.57Z M228.57,266.95 L231.22,264.25 L233.87,266.95 L231.22,269.65Z M228.57,266.05 H233.87 V267.85 H228.57Z M228.57,273.85 L231.22,271.15 L233.87,273.85 L231.22,276.55Z M228.57,272.95 H233.87 V274.75 H228.57Z M228.57,280.75 L231.22,278.05 L233.87,280.75 L231.22,283.45Z M228.57,279.85 H233.87 V281.65 H228.57Z M228.57,287.65 L231.22,284.95 L233.87,287.65 L231.22,290.35Z M228.57,286.75 H233.87 V288.55 H228.57Z M228.57,294.55 L231.22,291.85 L233.87,294.55 L231.22,297.25Z M228.57,293.65 H233.87 V295.45 H228.57Z M228.57,301.45 L231.22,298.75 L233.87,301.45 L231.22,304.15Z M228.57,300.55 H233.87 V302.35 H228.57Z" fill="#000"/>
<rect x="233.47" y="193.12" width="6.10" height="113.88" fill="#000"/>
<line x1="236.52" y1="188.70" x2="236.52" y2="193.12" stroke="#000" stroke-width="1.1"/>
<line x1="234.52" y1="188.70" x2="238.52" y2="188.70" stroke="#000" stroke-width="1.4"/>
<rect x="239.62" y="208.59" width="4.40" height="98.41" fill="#fff" stroke="#000" stroke-width="0.9"/>
<path d="M239.17,300.10 H244.47 M239.17,293.20 H244.47 M239.17,286.30 H244.47 M239.17,279.40 H244.47 M239.17,272.50 H244.47 M239.17,265.60 H244.47 M239.17,258.70 H244.47 M239.17,251.80 H244.47 M239.17,244.90 H244.47 M239.17,238.00 H244.47 M239.17,231.10 H244.47 M239.17,224.20 H244.47 M239.17,217.30 H244.47 M239.17,210.40 H244.47" stroke="#000" stroke-width="1.1" fill="none"/>
<path d="M239.17,303.55 H244.47 M239.17,296.65 H244.47 M239.17,289.75 H244.47 M239.17,282.85 H244.47 M239.17,275.95 H244.47 M239.17,269.05 H244.47 M239.17,262.15 H244.47 M239.17,255.25 H244.47 M239.17,248.35 H244.47 M239.17,241.45 H244.47 M239.17,234.55 H244.47 M239.17,227.65 H244.47 M239.17,220.75 H244.47 M239.17,213.85 H244.47" stroke="#000" stroke-width="0.45" fill="none"/>
<line x1="241.82" y1="208.14" x2="241.82" y2="307.00" stroke="#000" stroke-width="0.45"/>
<line x1="241.82" y1="201.58" x2="241.82" y2="208.14" stroke="#000" stroke-width="1.1"/>
<line x1="239.82" y1="201.58" x2="243.82" y2="201.58" stroke="#000" stroke-width="1.4"/>
<polygon points="59.17,41.48 59.79,42.55 61.00,42.81 60.17,43.73 60.30,44.95 59.17,44.46 58.04,44.95 58.17,43.73 57.34,42.81 58.55,42.55" fill="#000"/>
<polygon points="62.33,41.48 62.95,42.55 64.16,42.81 63.33,43.73 63.46,44.95 62.33,44.46 61.20,44.95 61.33,43.73 60.50,42.81 61.71,42.55" fill="#000"/>
<polygon points="168.30,130.06 168.96,131.19 170.24,131.47 169.37,132.45 169.50,133.75 168.30,133.22 167.10,133.75 167.23,132.45 166.36,131.47 167.64,131.19" fill="#000"/>
<polygon points="173.60,49.46 174.26,50.59 175.54,50.87 174.67,51.85 174.80,53.15 173.60,52.62 172.40,53.15 172.53,51.85 171.66,50.87 172.94,50.59" fill="#000"/>
<text class="xl" transform="translate(58.87,321.00) rotate(-50)" x="0" y="0" font-size="9.5" font-weight="bold" font-style="italic" text-anchor="end" textLength="28.7" lengthAdjust="spacingAndGlyphs">FceRIa</text>
<text class="xl" transform="translate(81.40,321.00) rotate(-50)" x="0" y="0" font-size="9.5" font-weight="bold" font-style="italic" text-anchor="end" textLength="29.1" lengthAdjust="spacingAndGlyphs">FceRIb</text>
<text class="xl" transform="translate(103.93,321.00) rotate(-50)" x="0" y="0" font-size="9.5" font-weight="bold" font-style="italic" text-anchor="end" textLength="36.3" lengthAdjust="spacingAndGlyphs">Tryptase</text>
<text class="xl" transform="translate(126.47,321.00) rotate(-50)" x="0" y="0" font-size="9.5" font-weight="bold" font-style="italic" text-anchor="end" textLength="19.0" lengthAdjust="spacingAndGlyphs">HDC</text>
<text class="xl" transform="translate(149.00,321.00) rotate(-50)" x="0" y="0" font-size="9.5" font-weight="bold" font-style="italic" text-anchor="end" textLength="16.0" lengthAdjust="spacingAndGlyphs">ST2</text>
<text class="xl" transform="translate(171.53,321.00) rotate(-50)" x="0" y="0" font-size="9.5" font-weight="bold" font-style="italic" text-anchor="end" textLength="31.2" lengthAdjust="spacingAndGlyphs">GATA-1</text>
<text class="xl" transform="translate(194.07,321.00) rotate(-50)" x="0" y="0" font-size="9.5" font-weight="bold" font-style="italic" text-anchor="end" textLength="31.2" lengthAdjust="spacingAndGlyphs">GATA-2</text>
<text class="xl" transform="translate(216.60,321.00) rotate(-50)" x="0" y="0" font-size="9.5" font-weight="bold" font-style="italic" text-anchor="end" textLength="20.6" lengthAdjust="spacingAndGlyphs">MITF</text>
<text class="xl" transform="translate(239.13,321.00) rotate(-50)" x="0" y="0" font-size="9.5" font-weight="bold" font-style="italic" text-anchor="end" textLength="17.5" lengthAdjust="spacingAndGlyphs">SCL</text>
<rect x="195.30" y="57.80" width="4.60" height="5.40" fill="#000"/>
<path d="M196.6,59.1 L198.8,59.1 L198.5,61.6Z" fill="#fff"/>
<text x="200.82" y="66.00" font-size="10" font-weight="normal" font-style="normal" textLength="12.19" lengthAdjust="spacingAndGlyphs">w/o</text>
<rect x="195.60" y="77.20" width="4.40" height="4.40" fill="#000"/>
<text x="200.80" y="84.00" font-size="10.5" font-weight="normal" font-style="normal" textLength="33.80" lengthAdjust="spacingAndGlyphs">BMP4 4 h</text>
<rect x="195.60" y="95.60" width="4.40" height="4.40" fill="#fff" stroke="#000" stroke-width="1"/>
<line x1="197.80" y1="95.60" x2="197.80" y2="100.00" stroke="#000" stroke-width="0.8"/>
<line x1="195.60" y1="97.80" x2="200.00" y2="97.80" stroke="#000" stroke-width="0.8"/>
<text x="200.80" y="102.00" font-size="10.5" font-weight="normal" font-style="normal" textLength="38.40" lengthAdjust="spacingAndGlyphs">BMP4 24 h</text>
<text class="pl" x="292.20" y="13.85" font-size="17.5" font-weight="bold" font-style="normal" textLength="11.15" lengthAdjust="spacingAndGlyphs">B</text>
<text x="347.50" y="15.00" font-size="14.5" font-weight="normal" font-style="normal" textLength="113.24" lengthAdjust="spacingAndGlyphs">FceRI stimulation</text>
<line x1="327.70" y1="247.65" x2="504.30" y2="247.65" stroke="#8a8a8a" stroke-width="1.1"/>
<line x1="327.70" y1="195.60" x2="504.30" y2="195.60" stroke="#8a8a8a" stroke-width="1.1"/>
<line x1="327.70" y1="143.55" x2="504.30" y2="143.55" stroke="#8a8a8a" stroke-width="1.1"/>
<line x1="327.70" y1="91.50" x2="504.30" y2="91.50" stroke="#8a8a8a" stroke-width="1.1"/>
<line x1="327.70" y1="39.45" x2="504.30" y2="39.45" stroke="#8a8a8a" stroke-width="1.1"/>
<line x1="330.60" y1="39.45" x2="330.60" y2="299.70" stroke="#8a8a8a" stroke-width="1.1"/>
<line x1="327.70" y1="299.70" x2="504.30" y2="299.70" stroke="#8a8a8a" stroke-width="1.1"/>
<line x1="330.60" y1="299.70" x2="330.60" y2="303.30" stroke="#8a8a8a" stroke-width="1.1"/>
<line x1="374.03" y1="299.70" x2="374.03" y2="303.30" stroke="#8a8a8a" stroke-width="1.1"/>
<line x1="417.45" y1="299.70" x2="417.45" y2="303.30" stroke="#8a8a8a" stroke-width="1.1"/>
<line x1="460.88" y1="299.70" x2="460.88" y2="303.30" stroke="#8a8a8a" stroke-width="1.1"/>
<line x1="504.30" y1="299.70" x2="504.30" y2="303.30" stroke="#8a8a8a" stroke-width="1.1"/>
<text x="315.50" y="305.30" font-size="13.5" font-weight="normal" font-style="normal" textLength="6.01" lengthAdjust="spacingAndGlyphs">0</text>
<text x="315.50" y="253.25" font-size="13.5" font-weight="normal" font-style="normal" textLength="6.01" lengthAdjust="spacingAndGlyphs">5</text>
<text x="309.49" y="201.20" font-size="13.5" font-weight="normal" font-style="normal" textLength="12.01" lengthAdjust="spacingAndGlyphs">10</text>
<text x="309.49" y="149.15" font-size="13.5" font-weight="normal" font-style="normal" textLength="12.01" lengthAdjust="spacingAndGlyphs">15</text>
<text x="309.49" y="97.10" font-size="13.5" font-weight="normal" font-style="normal" textLength="12.01" lengthAdjust="spacingAndGlyphs">20</text>
<text x="309.49" y="45.05" font-size="13.5" font-weight="normal" font-style="normal" textLength="12.01" lengthAdjust="spacingAndGlyphs">25</text>
<text transform="translate(307.20,251.20) rotate(-90) scale(1.2,1)" x="0" y="0" font-size="10.7" font-weight="bold" letter-spacing="0.265">Net histamine release (%)</text>
<line x1="395.74" y1="255.98" x2="395.74" y2="278.88" stroke="#000" stroke-width="1.2"/>
<line x1="393.24" y1="255.98" x2="398.24" y2="255.98" stroke="#000" stroke-width="1.3"/>
<line x1="393.24" y1="278.88" x2="398.24" y2="278.88" stroke="#000" stroke-width="1.3"/>
<line x1="439.16" y1="207.57" x2="439.16" y2="235.16" stroke="#000" stroke-width="1.2"/>
<line x1="436.66" y1="207.57" x2="441.66" y2="207.57" stroke="#000" stroke-width="1.3"/>
<line x1="436.66" y1="235.16" x2="441.66" y2="235.16" stroke="#000" stroke-width="1.3"/>
<line x1="482.59" y1="174.78" x2="482.59" y2="204.97" stroke="#000" stroke-width="1.2"/>
<line x1="480.09" y1="174.78" x2="485.09" y2="174.78" stroke="#000" stroke-width="1.3"/>
<line x1="480.09" y1="204.97" x2="485.09" y2="204.97" stroke="#000" stroke-width="1.3"/>
<line x1="395.74" y1="202.89" x2="395.74" y2="238.28" stroke="#000" stroke-width="1.2"/>
<line x1="393.24" y1="202.89" x2="398.24" y2="202.89" stroke="#000" stroke-width="1.3"/>
<line x1="393.24" y1="238.28" x2="398.24" y2="238.28" stroke="#000" stroke-width="1.3"/>
<line x1="439.16" y1="159.16" x2="439.16" y2="204.97" stroke="#000" stroke-width="1.2"/>
<line x1="436.66" y1="159.16" x2="441.66" y2="159.16" stroke="#000" stroke-width="1.3"/>
<line x1="436.66" y1="204.97" x2="441.66" y2="204.97" stroke="#000" stroke-width="1.3"/>
<line x1="482.59" y1="79.01" x2="482.59" y2="138.34" stroke="#000" stroke-width="1.2"/>
<line x1="480.09" y1="79.01" x2="485.09" y2="79.01" stroke="#000" stroke-width="1.3"/>
<line x1="480.09" y1="138.34" x2="485.09" y2="138.34" stroke="#000" stroke-width="1.3"/>
<polyline points="352.31,299.70 395.74,267.95 439.16,221.62 482.59,189.35" fill="none" stroke="#000" stroke-width="3.9" stroke-linejoin="round"/>
<polyline points="352.31,299.70 395.74,220.90 439.16,182.07 482.59,108.16" fill="none" stroke="#000" stroke-width="3.9" stroke-linejoin="round"/>
<path d="M347.91,299.70 L352.31,295.30 L356.71,299.70 L352.31,304.10Z" fill="#000"/>
<path d="M391.34,267.95 L395.74,263.55 L400.14,267.95 L395.74,272.35Z" fill="#000"/>
<path d="M434.76,221.62 L439.16,217.22 L443.56,221.62 L439.16,226.03Z" fill="#000"/>
<path d="M478.19,189.35 L482.59,184.95 L486.99,189.35 L482.59,193.75Z" fill="#000"/>
<rect x="348.61" y="296.00" width="7.40" height="7.40" fill="#000"/>
<rect x="392.04" y="217.20" width="7.40" height="7.40" fill="#000"/>
<rect x="435.46" y="178.37" width="7.40" height="7.40" fill="#000"/>
<rect x="478.89" y="104.46" width="7.40" height="7.40" fill="#000"/>
<polygon points="395.40,182.36 396.25,183.83 397.91,184.18 396.78,185.45 396.95,187.14 395.40,186.45 393.85,187.14 394.02,185.45 392.89,184.18 394.55,183.83" fill="#000"/>
<polygon points="482.30,57.36 483.15,58.83 484.81,59.18 483.68,60.45 483.85,62.14 482.30,61.45 480.75,62.14 480.92,60.45 479.79,59.18 481.45,58.83" fill="#000"/>
<line x1="365.00" y1="83.90" x2="380.00" y2="83.90" stroke="#000" stroke-width="3.2"/>
<path d="M368.4,83.9 L371.9,80.4 L375.4,83.9 L371.9,87.4Z" fill="#000"/>
<text x="380.32" y="90.00" font-size="12" font-weight="normal" font-style="normal" textLength="14.08" lengthAdjust="spacingAndGlyphs">w/o</text>
<line x1="365.00" y1="100.90" x2="380.00" y2="100.90" stroke="#000" stroke-width="3.2"/>
<rect x="368.70" y="97.30" width="7.00" height="7.20" fill="#000"/>
<text x="380.30" y="107.25" font-size="13" font-weight="normal" font-style="normal" textLength="20.95" lengthAdjust="spacingAndGlyphs">BMP</text>
<text x="349.31" y="321.90" font-size="13.5" font-weight="normal" font-style="normal" textLength="6.01" lengthAdjust="spacingAndGlyphs">0</text>
<text x="385.23" y="321.90" font-size="13.5" font-weight="normal" font-style="normal" textLength="21.02" lengthAdjust="spacingAndGlyphs">0.02</text>
<text x="428.65" y="321.90" font-size="13.5" font-weight="normal" font-style="normal" textLength="21.02" lengthAdjust="spacingAndGlyphs">0.05</text>
<text x="475.08" y="321.90" font-size="13.5" font-weight="normal" font-style="normal" textLength="15.01" lengthAdjust="spacingAndGlyphs">0.1</text>
<text x="376.90" y="340.60" font-size="11" font-weight="normal" font-style="normal" textLength="80.10" lengthAdjust="spacingAndGlyphs">anti-IgER  (µg/ml)</text>
<text class="pl" x="0.90" y="380.00" font-size="17.5" font-weight="bold" font-style="normal" textLength="11.50" lengthAdjust="spacingAndGlyphs">C</text>
<text x="8.75" y="403.00" font-size="16" font-weight="normal" font-style="normal" textLength="249.26" lengthAdjust="spacingAndGlyphs">Recovery to second FceRI stimulation</text>
<line x1="28.80" y1="656.04" x2="117.50" y2="656.04" stroke="#8a8a8a" stroke-width="1.1"/>
<line x1="28.80" y1="611.33" x2="117.50" y2="611.33" stroke="#8a8a8a" stroke-width="1.1"/>
<line x1="28.80" y1="566.62" x2="117.50" y2="566.62" stroke="#8a8a8a" stroke-width="1.1"/>
<line x1="28.80" y1="521.92" x2="117.50" y2="521.92" stroke="#8a8a8a" stroke-width="1.1"/>
<line x1="28.80" y1="477.21" x2="117.50" y2="477.21" stroke="#8a8a8a" stroke-width="1.1"/>
<line x1="28.80" y1="432.50" x2="117.50" y2="432.50" stroke="#8a8a8a" stroke-width="1.1"/>
<line x1="31.50" y1="432.50" x2="31.50" y2="700.75" stroke="#8a8a8a" stroke-width="1.1"/>
<line x1="28.80" y1="700.75" x2="117.50" y2="700.75" stroke="#8a8a8a" stroke-width="1.1"/>
<line x1="31.50" y1="700.75" x2="31.50" y2="704.25" stroke="#8a8a8a" stroke-width="1.1"/>
<line x1="74.50" y1="700.75" x2="74.50" y2="704.25" stroke="#8a8a8a" stroke-width="1.1"/>
<line x1="117.50" y1="700.75" x2="117.50" y2="704.25" stroke="#8a8a8a" stroke-width="1.1"/>
<text x="17.19" y="706.35" font-size="12.5" font-weight="normal" font-style="normal" textLength="5.91" lengthAdjust="spacingAndGlyphs">0</text>
<text x="17.19" y="661.64" font-size="12.5" font-weight="normal" font-style="normal" textLength="5.91" lengthAdjust="spacingAndGlyphs">5</text>
<text x="11.29" y="616.93" font-size="12.5" font-weight="normal" font-style="normal" textLength="11.82" lengthAdjust="spacingAndGlyphs">10</text>
<text x="11.29" y="572.23" font-size="12.5" font-weight="normal" font-style="normal" textLength="11.82" lengthAdjust="spacingAndGlyphs">15</text>
<text x="11.29" y="527.52" font-size="12.5" font-weight="normal" font-style="normal" textLength="11.82" lengthAdjust="spacingAndGlyphs">20</text>
<text x="11.29" y="482.81" font-size="12.5" font-weight="normal" font-style="normal" textLength="11.82" lengthAdjust="spacingAndGlyphs">25</text>
<text x="11.29" y="438.10" font-size="12.5" font-weight="normal" font-style="normal" textLength="11.82" lengthAdjust="spacingAndGlyphs">30</text>
<text transform="translate(8.40,648.75) rotate(-90) scale(1.2,1)" x="0" y="0" font-size="10.6" font-weight="bold" letter-spacing="0.362">Net histamine release (%)</text>
<line x1="179.30" y1="656.04" x2="268.50" y2="656.04" stroke="#8a8a8a" stroke-width="1.1"/>
<line x1="179.30" y1="611.33" x2="268.50" y2="611.33" stroke="#8a8a8a" stroke-width="1.1"/>
<line x1="179.30" y1="566.62" x2="268.50" y2="566.62" stroke="#8a8a8a" stroke-width="1.1"/>
<line x1="179.30" y1="521.92" x2="268.50" y2="521.92" stroke="#8a8a8a" stroke-width="1.1"/>
<line x1="179.30" y1="477.21" x2="268.50" y2="477.21" stroke="#8a8a8a" stroke-width="1.1"/>
<line x1="179.30" y1="432.50" x2="268.50" y2="432.50" stroke="#8a8a8a" stroke-width="1.1"/>
<line x1="182.00" y1="432.50" x2="182.00" y2="700.75" stroke="#8a8a8a" stroke-width="1.1"/>
<line x1="179.30" y1="700.75" x2="268.50" y2="700.75" stroke="#8a8a8a" stroke-width="1.1"/>
<line x1="182.00" y1="700.75" x2="182.00" y2="704.25" stroke="#8a8a8a" stroke-width="1.1"/>
<line x1="225.25" y1="700.75" x2="225.25" y2="704.25" stroke="#8a8a8a" stroke-width="1.1"/>
<line x1="268.50" y1="700.75" x2="268.50" y2="704.25" stroke="#8a8a8a" stroke-width="1.1"/>
<text x="167.69" y="706.35" font-size="12.5" font-weight="normal" font-style="normal" textLength="5.91" lengthAdjust="spacingAndGlyphs">0</text>
<text x="167.69" y="661.64" font-size="12.5" font-weight="normal" font-style="normal" textLength="5.91" lengthAdjust="spacingAndGlyphs">5</text>
<text x="161.78" y="616.93" font-size="12.5" font-weight="normal" font-style="normal" textLength="11.82" lengthAdjust="spacingAndGlyphs">10</text>
<text x="161.78" y="572.23" font-size="12.5" font-weight="normal" font-style="normal" textLength="11.82" lengthAdjust="spacingAndGlyphs">15</text>
<text x="161.78" y="527.52" font-size="12.5" font-weight="normal" font-style="normal" textLength="11.82" lengthAdjust="spacingAndGlyphs">20</text>
<text x="161.78" y="482.81" font-size="12.5" font-weight="normal" font-style="normal" textLength="11.82" lengthAdjust="spacingAndGlyphs">25</text>
<text x="161.78" y="438.10" font-size="12.5" font-weight="normal" font-style="normal" textLength="11.82" lengthAdjust="spacingAndGlyphs">30</text>
<text transform="translate(158.60,648.75) rotate(-90) scale(1.2,1)" x="0" y="0" font-size="10.6" font-weight="bold" letter-spacing="0.362">Net histamine release (%)</text>
<rect x="44.80" y="647.10" width="17.20" height="53.65" fill="url(#zz1)" stroke="#000" stroke-width="1.1"/>
<line x1="53.25" y1="637.26" x2="53.25" y2="647.10" stroke="#000" stroke-width="1.1"/>
<line x1="50.75" y1="637.26" x2="55.75" y2="637.26" stroke="#000" stroke-width="1.4"/>
<rect x="87.30" y="543.10" width="17.70" height="157.65" fill="#000"/>
<line x1="96.10" y1="518.50" x2="96.10" y2="543.10" stroke="#000" stroke-width="1.1"/>
<line x1="93.85" y1="518.50" x2="98.35" y2="518.50" stroke="#000" stroke-width="1.4"/>
<polygon points="90.56,497.74 91.45,499.27 93.18,499.65 92.00,500.97 92.18,502.73 90.56,502.02 88.94,502.73 89.12,500.97 87.94,499.65 89.67,499.27" fill="#000"/>
<polygon points="95.00,497.74 95.89,499.27 97.62,499.65 96.44,500.97 96.62,502.73 95.00,502.02 93.38,502.73 93.56,500.97 92.38,499.65 94.11,499.27" fill="#000"/>
<polygon points="99.44,497.74 100.33,499.27 102.06,499.65 100.88,500.97 101.06,502.73 99.44,502.02 97.82,502.73 98.00,500.97 96.82,499.65 98.55,499.27" fill="#000"/>
<text x="42.52" y="458.75" font-size="15" font-weight="normal" font-style="normal" textLength="46.98" lengthAdjust="spacingAndGlyphs">w/o SCF</text>
<rect x="195.60" y="547.85" width="16.70" height="152.90" fill="url(#zz2)" stroke="#000" stroke-width="1.1"/>
<line x1="203.75" y1="533.54" x2="203.75" y2="547.85" stroke="#000" stroke-width="1.1"/>
<line x1="201.25" y1="533.54" x2="206.25" y2="533.54" stroke="#000" stroke-width="1.4"/>
<rect x="238.10" y="480.00" width="17.70" height="220.75" fill="#000"/>
<line x1="246.90" y1="469.50" x2="246.90" y2="480.00" stroke="#000" stroke-width="1.1"/>
<line x1="244.65" y1="469.50" x2="249.15" y2="469.50" stroke="#000" stroke-width="1.4"/>
<polygon points="246.20,449.54 247.09,451.07 248.82,451.45 247.64,452.77 247.82,454.53 246.20,453.82 244.58,454.53 244.76,452.77 243.58,451.45 245.31,451.07" fill="#000"/>
<text x="198.80" y="458.80" font-size="15.5" font-weight="normal" font-style="normal" textLength="24.40" lengthAdjust="spacingAndGlyphs">SCF</text>
<text x="46.02" y="721.30" font-size="13.5" font-weight="normal" font-style="normal" textLength="14.18" lengthAdjust="spacingAndGlyphs">w/o</text>
<text x="86.80" y="721.30" font-size="13.5" font-weight="normal" font-style="normal" textLength="19.20" lengthAdjust="spacingAndGlyphs">BMP</text>
<text x="195.40" y="721.30" font-size="13.5" font-weight="normal" font-style="normal" textLength="16.90" lengthAdjust="spacingAndGlyphs">SCF</text>
<text x="225.70" y="721.30" font-size="13.5" font-weight="normal" font-style="normal" textLength="42.00" lengthAdjust="spacingAndGlyphs">SCF+BMP</text>
<text class="pl" x="292.20" y="380.00" font-size="17.5" font-weight="bold" font-style="normal" textLength="11.15" lengthAdjust="spacingAndGlyphs">D</text>
<text x="370.00" y="401.50" font-size="18.5" font-weight="normal" font-style="normal" textLength="75.00" lengthAdjust="spacingAndGlyphs">MC survival</text>
<line x1="339.40" y1="632.44" x2="522.00" y2="632.44" stroke="#8a8a8a" stroke-width="1.1"/>
<line x1="339.40" y1="588.48" x2="522.00" y2="588.48" stroke="#8a8a8a" stroke-width="1.1"/>
<line x1="339.40" y1="544.52" x2="522.00" y2="544.52" stroke="#8a8a8a" stroke-width="1.1"/>
<line x1="339.40" y1="500.56" x2="522.00" y2="500.56" stroke="#8a8a8a" stroke-width="1.1"/>
<line x1="339.40" y1="456.60" x2="522.00" y2="456.60" stroke="#8a8a8a" stroke-width="1.1"/>
<line x1="342.60" y1="435.50" x2="342.60" y2="676.40" stroke="#8a8a8a" stroke-width="1.1"/>
<line x1="339.40" y1="676.40" x2="522.00" y2="676.40" stroke="#8a8a8a" stroke-width="1.1"/>
<line x1="342.60" y1="676.40" x2="342.60" y2="680.00" stroke="#8a8a8a" stroke-width="1.1"/>
<line x1="372.15" y1="676.40" x2="372.15" y2="680.00" stroke="#8a8a8a" stroke-width="1.1"/>
<line x1="401.70" y1="676.40" x2="401.70" y2="680.00" stroke="#8a8a8a" stroke-width="1.1"/>
<line x1="431.25" y1="676.40" x2="431.25" y2="680.00" stroke="#8a8a8a" stroke-width="1.1"/>
<line x1="460.80" y1="676.40" x2="460.80" y2="680.00" stroke="#8a8a8a" stroke-width="1.1"/>
<line x1="490.35" y1="676.40" x2="490.35" y2="680.00" stroke="#8a8a8a" stroke-width="1.1"/>
<line x1="519.90" y1="676.40" x2="519.90" y2="680.00" stroke="#8a8a8a" stroke-width="1.1"/>
<text x="324.39" y="684.20" font-size="16.5" font-weight="normal" font-style="normal" textLength="6.61" lengthAdjust="spacingAndGlyphs">0</text>
<text x="317.79" y="640.24" font-size="16.5" font-weight="normal" font-style="normal" textLength="13.21" lengthAdjust="spacingAndGlyphs">20</text>
<text x="317.79" y="596.28" font-size="16.5" font-weight="normal" font-style="normal" textLength="13.21" lengthAdjust="spacingAndGlyphs">40</text>
<text x="317.79" y="552.32" font-size="16.5" font-weight="normal" font-style="normal" textLength="13.21" lengthAdjust="spacingAndGlyphs">60</text>
<text x="317.79" y="508.36" font-size="16.5" font-weight="normal" font-style="normal" textLength="13.21" lengthAdjust="spacingAndGlyphs">80</text>
<text x="311.18" y="464.40" font-size="16.5" font-weight="normal" font-style="normal" textLength="19.82" lengthAdjust="spacingAndGlyphs">100</text>
<text transform="translate(305.40,632.00) rotate(-90) scale(1.2,1)" x="0" y="0" font-size="12.4" font-weight="bold" letter-spacing="0.682">Mast cell recovery (%)</text>
<rect x="350.70" y="554.60" width="13.60" height="121.80" fill="url(#chk)" stroke="#000" stroke-width="1.1"/>
<line x1="357.50" y1="542.50" x2="357.50" y2="554.10" stroke="#000" stroke-width="1.1"/>
<line x1="355.00" y1="542.50" x2="360.00" y2="542.50" stroke="#000" stroke-width="1.4"/>
<rect x="379.75" y="528.10" width="15.00" height="148.30" fill="#000"/>
<line x1="387.25" y1="519.75" x2="387.25" y2="528.10" stroke="#000" stroke-width="1.1"/>
<line x1="384.75" y1="519.75" x2="389.75" y2="519.75" stroke="#000" stroke-width="1.4"/>
<rect x="409.10" y="518.10" width="14.65" height="158.30" fill="#000"/>
<line x1="416.43" y1="510.00" x2="416.43" y2="518.10" stroke="#000" stroke-width="1.1"/>
<line x1="413.93" y1="510.00" x2="418.93" y2="510.00" stroke="#000" stroke-width="1.4"/>
<rect x="438.50" y="502.50" width="15.00" height="173.90" fill="#000"/>
<line x1="446.00" y1="493.50" x2="446.00" y2="502.50" stroke="#000" stroke-width="1.1"/>
<line x1="443.50" y1="493.50" x2="448.50" y2="493.50" stroke="#000" stroke-width="1.4"/>
<rect x="468.80" y="500.60" width="13.20" height="175.80" fill="#fff" stroke="#000" stroke-width="1.25"/>
<path d="M473.60,500.00 V676.40 M479.60,500.00 V676.40 M468.20,505.36 H482.60 M468.20,513.78 H482.60 M468.20,522.20 H482.60 M468.20,530.62 H482.60 M468.20,539.04 H482.60 M468.20,547.46 H482.60 M468.20,555.88 H482.60 M468.20,564.30 H482.60 M468.20,572.72 H482.60 M468.20,581.14 H482.60 M468.20,589.56 H482.60 M468.20,597.98 H482.60 M468.20,606.40 H482.60 M468.20,614.82 H482.60 M468.20,623.24 H482.60 M468.20,631.66 H482.60 M468.20,640.08 H482.60 M468.20,648.50 H482.60 M468.20,656.92 H482.60 M468.20,665.34 H482.60 M468.20,673.76 H482.60" stroke="#000" stroke-width="1.25" fill="none"/>
<line x1="475.40" y1="485.75" x2="475.40" y2="514.50" stroke="#000" stroke-width="1.1"/>
<line x1="472.90" y1="485.75" x2="477.90" y2="485.75" stroke="#000" stroke-width="1.4"/>
<rect x="498.70" y="457.50" width="13.40" height="218.90" fill="#fff" stroke="#000" stroke-width="1.25"/>
<path d="M501.25,456.90 V676.40 M507.60,456.90 V676.40 M498.10,462.70 H512.70 M498.10,471.10 H512.70 M498.10,479.50 H512.70 M498.10,487.90 H512.70 M498.10,496.30 H512.70 M498.10,504.70 H512.70 M498.10,513.10 H512.70 M498.10,521.50 H512.70 M498.10,529.90 H512.70 M498.10,538.30 H512.70 M498.10,546.70 H512.70 M498.10,555.10 H512.70 M498.10,563.50 H512.70 M498.10,571.90 H512.70 M498.10,580.30 H512.70 M498.10,588.70 H512.70 M498.10,597.10 H512.70 M498.10,605.50 H512.70 M498.10,613.90 H512.70 M498.10,622.30 H512.70 M498.10,630.70 H512.70 M498.10,639.10 H512.70 M498.10,647.50 H512.70 M498.10,655.90 H512.70 M498.10,664.30 H512.70 M498.10,672.70 H512.70" stroke="#000" stroke-width="1.25" fill="none"/>
<line x1="505.40" y1="448.50" x2="505.40" y2="467.25" stroke="#000" stroke-width="1.1"/>
<line x1="502.90" y1="448.50" x2="507.90" y2="448.50" stroke="#000" stroke-width="1.4"/>
<polygon points="387.25,492.84 388.14,494.37 389.87,494.75 388.69,496.07 388.87,497.83 387.25,497.12 385.63,497.83 385.81,496.07 384.63,494.75 386.36,494.37" fill="#000"/>
<polygon points="415.01,482.84 415.90,484.37 417.63,484.75 416.45,486.07 416.63,487.83 415.01,487.12 413.39,487.83 413.57,486.07 412.39,484.75 414.12,484.37" fill="#000"/>
<polygon points="419.49,482.84 420.38,484.37 422.11,484.75 420.93,486.07 421.11,487.83 419.49,487.12 417.87,487.83 418.05,486.07 416.87,484.75 418.60,484.37" fill="#000"/>
<polygon points="443.76,469.74 444.65,471.27 446.38,471.65 445.20,472.97 445.38,474.73 443.76,474.02 442.14,474.73 442.32,472.97 441.14,471.65 442.87,471.27" fill="#000"/>
<polygon points="448.24,469.74 449.13,471.27 450.86,471.65 449.68,472.97 449.86,474.73 448.24,474.02 446.62,474.73 446.80,472.97 445.62,471.65 447.35,471.27" fill="#000"/>
<polygon points="472.36,463.24 473.25,464.77 474.98,465.15 473.80,466.47 473.98,468.23 472.36,467.52 470.74,468.23 470.92,466.47 469.74,465.15 471.47,464.77" fill="#000"/>
<polygon points="476.84,463.24 477.73,464.77 479.46,465.15 478.28,466.47 478.46,468.23 476.84,467.52 475.22,468.23 475.40,466.47 474.22,465.15 475.95,464.77" fill="#000"/>
<polygon points="500.26,428.74 501.15,430.27 502.88,430.65 501.70,431.97 501.88,433.73 500.26,433.02 498.64,433.73 498.82,431.97 497.64,430.65 499.37,430.27" fill="#000"/>
<polygon points="504.60,428.74 505.49,430.27 507.22,430.65 506.04,431.97 506.22,433.73 504.60,433.02 502.98,433.73 503.16,431.97 501.98,430.65 503.71,430.27" fill="#000"/>
<polygon points="508.94,428.74 509.83,430.27 511.56,430.65 510.38,431.97 510.56,433.73 508.94,433.02 507.32,433.73 507.50,431.97 506.32,430.65 508.05,430.27" fill="#000"/>
<text x="348.77" y="699.75" font-size="15" font-weight="normal" font-style="normal" textLength="17.73" lengthAdjust="spacingAndGlyphs">w/o</text>
<text x="374.90" y="699.75" font-size="15" font-weight="normal" font-style="normal" textLength="24.05" lengthAdjust="spacingAndGlyphs">BMP</text>
<text x="375.92" y="716.50" font-size="14.5" font-weight="normal" font-style="normal" textLength="22.01" lengthAdjust="spacingAndGlyphs">0.01</text>
<text x="404.45" y="699.75" font-size="15" font-weight="normal" font-style="normal" textLength="24.05" lengthAdjust="spacingAndGlyphs">BMP</text>
<text x="408.61" y="716.50" font-size="14.5" font-weight="normal" font-style="normal" textLength="15.72" lengthAdjust="spacingAndGlyphs">0.1</text>
<text x="434.00" y="699.75" font-size="15" font-weight="normal" font-style="normal" textLength="24.05" lengthAdjust="spacingAndGlyphs">BMP</text>
<text x="442.88" y="716.50" font-size="14.5" font-weight="normal" font-style="normal" textLength="6.29" lengthAdjust="spacingAndGlyphs">1</text>
<text x="464.48" y="699.75" font-size="15" font-weight="normal" font-style="normal" textLength="22.20" lengthAdjust="spacingAndGlyphs">SCF</text>
<text x="469.29" y="716.50" font-size="14.5" font-weight="normal" font-style="normal" textLength="12.58" lengthAdjust="spacingAndGlyphs">10</text>
<text x="494.02" y="699.75" font-size="15" font-weight="normal" font-style="normal" textLength="22.20" lengthAdjust="spacingAndGlyphs">SCF</text>
<text x="495.69" y="716.50" font-size="14.5" font-weight="normal" font-style="normal" textLength="18.87" lengthAdjust="spacingAndGlyphs">100</text></svg></body></html>
